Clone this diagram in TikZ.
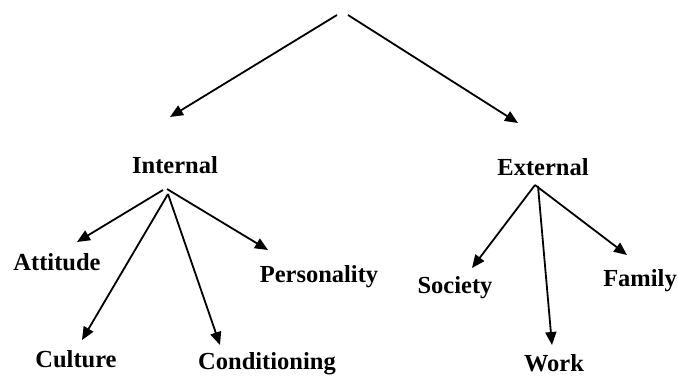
\documentclass[tikz,border=0pt]{standalone}
\usepackage{fontspec}
\setmainfont{Liberation Serif}
\usetikzlibrary{arrows.meta}
\begin{document}
\begin{tikzpicture}[x=1pt,y=-1pt,
  lbl/.style={font=\fontsize{24.5}{28}\selectfont\bfseries, inner sep=0pt, anchor=base},
  arr/.style={line width=1.8pt, -{Triangle[length=13pt,width=11pt]}}]
\useasboundingbox (0,0) rectangle (678,376);
% labels
\node[lbl] (int) at (175,173) {Internal};
\node[lbl] (ext) at (543,175) {External};
\node[lbl] (att) at (57,270) {Attitude};
\node[lbl] (per) at (319,282) {Personality};
\node[lbl] (cul) at (76,367) {Culture};
\node[lbl] (con) at (267,369) {Conditioning};
\node[lbl] (soc) at (455,293) {Society};
\node[lbl] (fam) at (640,286) {Family};
\node[lbl] (wor) at (554,371) {Work};
% top free ends
\coordinate (topL) at (337,15);
\coordinate (topR) at (348,15);
\coordinate (tInt) at (170,117);
\coordinate (tExt) at (518,123);
% hubs
\coordinate (hA) at (163,190);
\coordinate (hP) at (167,189);
\coordinate (hC) at (168,194);
\coordinate (hE) at (535,185);
\coordinate (hW) at (538,186);
% tips
\coordinate (tAtt) at (77,242);
\coordinate (tPer) at (268,250);
\coordinate (tCul) at (82,340);
\coordinate (tCon) at (220,345);
\coordinate (tSoc) at (472,268);
\coordinate (tWor) at (552,345);
\coordinate (tFam) at (627,255);
% arrows
\draw[arr] (topL) -- (tInt);
\draw[arr] (topR) -- (tExt);
\draw[arr] (hA) -- (tAtt);
\draw[arr] (hP) -- (tPer);
\draw[arr] (hC) -- (tCul);
\draw[arr] (hC) -- (tCon);
\draw[arr] (hE) -- (tSoc);
\draw[arr] (hW) -- (tWor);
\draw[arr] (hE) -- (tFam);
\end{tikzpicture}
\end{document}
